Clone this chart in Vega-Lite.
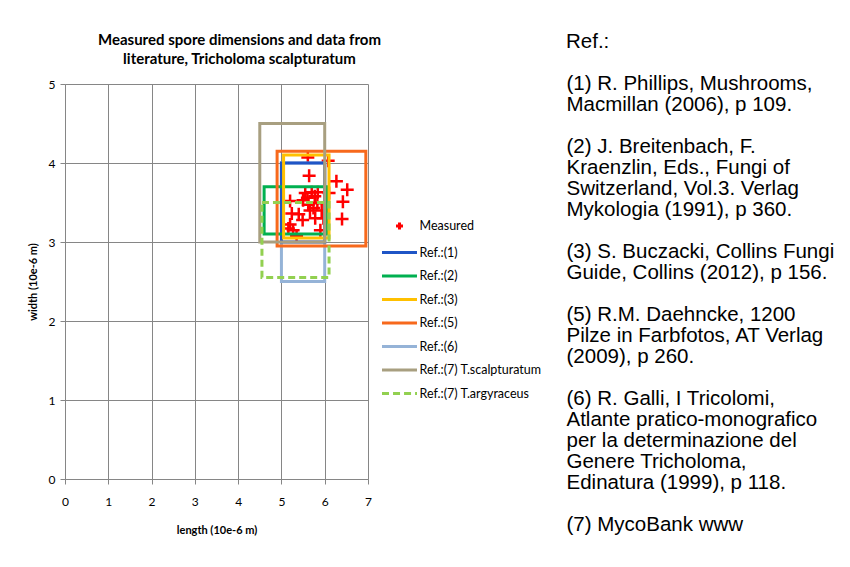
{
  "$schema": "https://vega.github.io/schema/vega-lite/v6.json",
  "background": "white",
  "padding": {"left": 27, "top": 31, "right": 5, "bottom": 5},
  "spacing": 184,
  "config": {
    "font": "Lato",
    "view": {"stroke": null},
    "axis": {
      "domainColor": "#868686",
      "tickColor": "#868686",
      "gridColor": "#868686",
      "labelFont": "Lato",
      "labelFontSize": 12,
      "labelColor": "#000000",
      "titleFont": "Lato",
      "titleFontSize": 11,
      "titleFontWeight": "bold",
      "titleColor": "#000000",
      "tickSize": 5,
      "labelFlush": false
    },
    "legend": {
      "orient": "none",
      "legendX": 324,
      "legendY": 131.5,
      "padding": 0,
      "symbolSize": 306,
      "symbolStrokeWidth": 3,
      "rowPadding": 6.5,
      "labelOffset": 9.5,
      "labelFont": "Lato",
      "labelFontSize": 12.5,
      "labelColor": "#000000",
      "symbolOpacity": 1
    }
  },
  "datasets": {
    "measured": [
      {"series": "Measured", "length": 5.61, "width": 4.07},
      {"series": "Measured", "length": 6.08, "width": 4.03},
      {"series": "Measured", "length": 5.64, "width": 3.84},
      {"series": "Measured", "length": 6.27, "width": 3.77},
      {"series": "Measured", "length": 6.52, "width": 3.66},
      {"series": "Measured", "length": 6.42, "width": 3.51},
      {"series": "Measured", "length": 6.40, "width": 3.29},
      {"series": "Measured", "length": 6.10, "width": 3.62},
      {"series": "Measured", "length": 5.70, "width": 3.63},
      {"series": "Measured", "length": 5.84, "width": 3.63},
      {"series": "Measured", "length": 5.77, "width": 3.58},
      {"series": "Measured", "length": 5.50, "width": 3.53},
      {"series": "Measured", "length": 5.62, "width": 3.47},
      {"series": "Measured", "length": 5.74, "width": 3.43},
      {"series": "Measured", "length": 5.83, "width": 3.49},
      {"series": "Measured", "length": 5.60, "width": 3.56},
      {"series": "Measured", "length": 5.24, "width": 3.36},
      {"series": "Measured", "length": 5.49, "width": 3.28},
      {"series": "Measured", "length": 5.78, "width": 3.30},
      {"series": "Measured", "length": 5.20, "width": 3.22},
      {"series": "Measured", "length": 5.27, "width": 3.15},
      {"series": "Measured", "length": 5.93, "width": 3.40},
      {"series": "Measured", "length": 5.97, "width": 3.30},
      {"series": "Measured", "length": 5.90, "width": 3.15},
      {"series": "Measured", "length": 5.35, "width": 3.08},
      {"series": "Measured", "length": 5.20, "width": 3.52},
      {"series": "Measured", "length": 5.66, "width": 3.40},
      {"series": "Measured", "length": 5.55, "width": 3.62},
      {"series": "Measured", "length": 5.16, "width": 3.17},
      {"series": "Measured", "length": 5.40, "width": 3.35}
    ],
    "refs": [
      {"series": "Ref.:(6)", "lmin": 5.0, "lmax": 6.0, "wmin": 2.5, "wmax": 4.0},
      {"series": "Ref.:(1)", "lmin": 5.0, "lmax": 6.0, "wmin": 3.0, "wmax": 4.0},
      {"series": "Ref.:(2)", "lmin": 4.6, "lmax": 6.05, "wmin": 3.1, "wmax": 3.7},
      {"series": "Ref.:(3)", "lmin": 5.05, "lmax": 6.1, "wmin": 3.05, "wmax": 4.1},
      {"series": "Ref.:(5)", "lmin": 4.9, "lmax": 6.95, "wmin": 2.95, "wmax": 4.15},
      {"series": "Ref.:(7) T.scalpturatum", "lmin": 4.5, "lmax": 6.0, "wmin": 3.0, "wmax": 4.5}
    ],
    "refsDashed": [
      {"series": "Ref.:(7) T.argyraceus", "lmin": 4.55, "lmax": 6.1, "wmin": 2.55, "wmax": 3.5}
    ],
    "text": [
      {"line": 2, "text": "(1) R. Phillips, Mushrooms,"},
      {"line": 3, "text": "Macmillan (2006), p 109."},
      {"line": 5, "text": "(2) J. Breitenbach, F."},
      {"line": 6, "text": "Kraenzlin, Eds., Fungi of"},
      {"line": 7, "text": "Switzerland, Vol.3. Verlag"},
      {"line": 8, "text": "Mykologia (1991), p 360."},
      {"line": 10, "text": "(3) S. Buczacki, Collins Fungi"},
      {"line": 11, "text": "Guide, Collins (2012), p 156."},
      {"line": 13, "text": "(5) R.M. Daehncke, 1200"},
      {"line": 14, "text": "Pilze in Farbfotos, AT Verlag"},
      {"line": 15, "text": "(2009), p 260."},
      {"line": 17, "text": "(6) R. Galli, I Tricolomi,"},
      {"line": 18, "text": "Atlante pratico-monografico"},
      {"line": 19, "text": "per la determinazione del"},
      {"line": 20, "text": "Genere Tricholoma,"},
      {"line": 21, "text": "Edinatura (1999), p 118."},
      {"line": 23, "text": "(7) MycoBank www"}
    ]
  },
  "hconcat": [
    {
      "width": 303,
      "height": 395,
      "title": {
        "text": ["Measured spore dimensions and data from", "literature, Tricholoma scalpturatum"],
        "font": "Lato",
        "fontSize": 15,
        "fontWeight": "bold",
        "lineHeight": 19,
        "offset": 11,
        "dx": 23,
        "anchor": "middle",
        "color": "#000000"
      },
      "layer": [
        {
          "data": {"name": "measured"},
          "mark": {"type": "point", "filled": false, "strokeWidth": 2.5, "size": 1056, "opacity": 1},
          "encoding": {
            "x": {
              "field": "length", "type": "quantitative",
              "scale": {"domain": [0, 7], "nice": false, "zero": true},
              "axis": {
                "title": "length (10e-6 m)",
                "values": [0, 1, 2, 3, 4, 5, 6, 7],
                "labelPadding": 12,
                "titlePadding": 17,
                "grid": true,
                "format": "d"
              }
            },
            "y": {
              "field": "width", "type": "quantitative",
              "scale": {"domain": [0, 5], "nice": false},
              "axis": {
                "title": "width (10e-6 m)",
                "values": [0, 0.5, 1, 1.5, 2, 2.5, 3, 3.5, 4, 4.5, 5],
                "labelExpr": "datum.value % 1 === 0 ? datum.label : ''",
                "format": "d",
                "grid": true,
                "gridColor": {"condition": {"test": "datum.value % 1 !== 0", "value": "#c8c8c8"}, "value": "#868686"},
                "tickOpacity": {"condition": {"test": "datum.value % 1 !== 0", "value": 0}, "value": 1},
                "labelPadding": 5,
                "titlePadding": 10
              }
            },
            "color": {
              "field": "series", "type": "nominal", "title": null,
              "scale": {
                "domain": ["Measured", "Ref.:(1)", "Ref.:(2)", "Ref.:(3)", "Ref.:(5)", "Ref.:(6)", "Ref.:(7) T.scalpturatum", "Ref.:(7) T.argyraceus"],
                "range": ["#ff0000", "#1f55c6", "#00b050", "#ffc000", "#f7691c", "#95b3d7", "#a89f80", "#92d050"]
              }
            },
            "shape": {
              "field": "series", "type": "nominal", "title": null,
              "scale": {
                "domain": ["Measured", "Ref.:(1)", "Ref.:(2)", "Ref.:(3)", "Ref.:(5)", "Ref.:(6)", "Ref.:(7) T.scalpturatum", "Ref.:(7) T.argyraceus"],
                "range": [
                  "M-0.4,0H0.4M0,-0.4V0.4",
                  "M-2,0H2",
                  "M-2,0H2",
                  "M-2,0H2",
                  "M-2,0H2",
                  "M-2,0H2",
                  "M-2,0H2",
                  "M-2,0H-1.2M-0.74,0H0.06M0.52,0H1.32M1.78,0H2"
                ]
              }
            }
          }
        },
        {
          "data": {"name": "refs"},
          "mark": {"type": "rect", "filled": false, "strokeWidth": 3, "strokeJoin": "miter"},
          "encoding": {
            "x": {"field": "lmin", "type": "quantitative"},
            "x2": {"field": "lmax"},
            "y": {"field": "wmin", "type": "quantitative"},
            "y2": {"field": "wmax"},
            "color": {"field": "series", "type": "nominal", "title": null}
          }
        },
        {
          "data": {"name": "refsDashed"},
          "mark": {"type": "rect", "filled": false, "strokeWidth": 3, "strokeDash": [7, 4]},
          "encoding": {
            "x": {"field": "lmin", "type": "quantitative"},
            "x2": {"field": "lmax"},
            "y": {"field": "wmin", "type": "quantitative"},
            "y2": {"field": "wmax"},
            "color": {"field": "series", "type": "nominal", "title": null}
          }
        }
      ]
    },
    {
      "width": 1,
      "height": 441,
      "title": {
        "text": "Ref.:",
        "anchor": "start",
        "font": "Liberation Sans",
        "fontSize": 20.5,
        "fontWeight": "normal",
        "offset": 22,
        "color": "#000000"
      },
      "data": {"name": "text"},
      "mark": {"type": "text", "align": "left", "baseline": "middle", "font": "Liberation Sans", "fontSize": 20.5, "color": "#000000"},
      "encoding": {
        "y": {
          "field": "line", "type": "ordinal",
          "scale": {"type": "point", "padding": 0, "domain": [2,3,4,5,6,7,8,9,10,11,12,13,14,15,16,17,18,19,20,21,22,23]},
          "axis": null
        },
        "text": {"field": "text"}
      }
    }
  ]
}
